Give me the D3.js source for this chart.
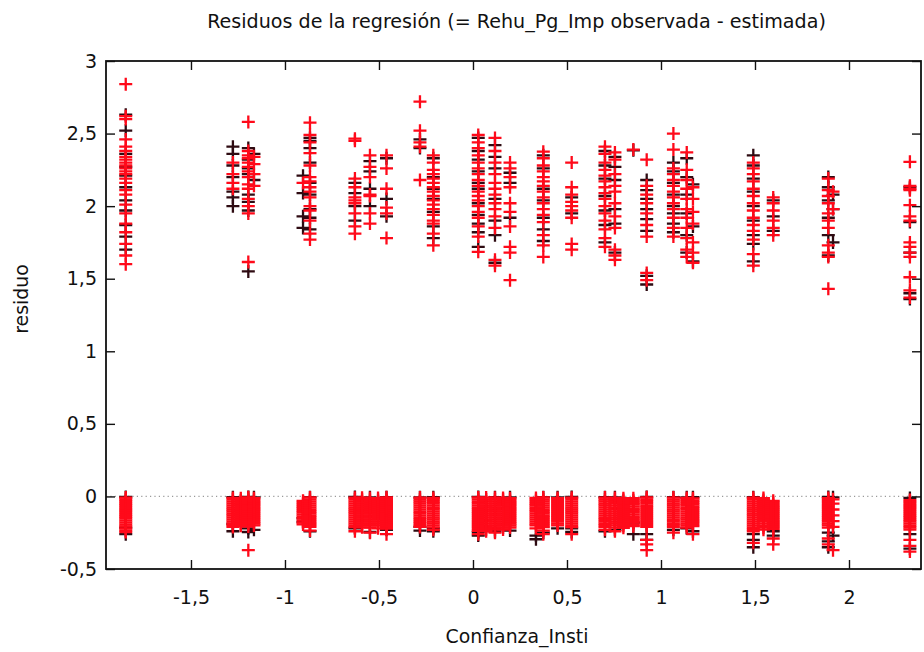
<!DOCTYPE html>
<html><head><meta charset="utf-8">
<script src="https://cdn.jsdelivr.net/npm/d3@7"></script>
<style>body{margin:0;background:#fff} svg text{font-family:"DejaVu Sans",sans-serif;fill:#111}</style>
</head><body><svg id="c" width="924" height="652"></svg>
<script>
// ---- data ----
const title = "Residuos de la regresión (= Rehu_Pg_Imp observada - estimada)";
const xLabel = "Confianza_Insti";
const yLabel = "residuo";
const xTicks = [-1.5, -1, -0.5, 0, 0.5, 1, 1.5, 2];
const yTicks = [-0.5, 0, 0.5, 1, 1.5, 2, 2.5, 3];

// distinct values of Confianza_Insti (one column of points each)
const columnX = [-1.847,-1.277,-1.195,-1.165,-0.904,-0.867,-0.628,-0.548,-0.46,-0.282,-0.211,0.028,0.117,0.197,0.335,0.374,0.45,0.525,0.702,0.755,0.853,0.924,1.066,1.137,1.17,1.491,1.597,1.89,1.915,2.324,
                 -1.235,-0.59,-0.505,0.07,0.16,0.80,1.545];

const upperRed = [
 [2.84,2.62,2.60,2.46,2.41,2.38,2.34,2.32,2.30,2.28,2.26,2.24,2.22,2.19,2.16,2.11,2.08,2.01,1.95,1.88,1.82,1.74,1.66,1.60],
 [2.30,2.22,2.16,2.12],
 [2.58,2.38,2.35,2.33,2.30,2.27,2.24,2.20,2.15,2.12,2.05,2.00,1.95,1.615],
 [2.34,2.29,2.22,2.14],
 [2.16],
 [2.575,2.49,2.44,2.365,2.28,2.20,2.17,2.13,2.10,2.06,2.00,1.97,1.90,1.81,1.77],
 [2.465,2.45,2.19,2.13,2.06,2.04,2.02,1.95,1.86,1.81],
 [2.35,2.27,2.20,2.08,2.07,1.95,1.88],
 [2.35,2.26,2.12,1.99,1.95,1.78],
 [2.72,2.52,2.44,2.41,2.18],
 [2.35,2.30,2.25,2.22,2.19,2.16,2.13,2.10,2.07,2.04,2.01,1.98,1.94,1.90,1.88,1.81,1.73],
 [2.49,2.44,2.40,2.35,2.30,2.26,2.22,2.18,2.14,2.10,2.07,2.04,2.00,1.96,1.92,1.86,1.79,1.685],
 [2.47,2.38,2.30,2.22,2.16,2.12,2.08,2.02,1.98,1.93,1.85,1.63,1.59],
 [2.30,2.26,2.20,2.13,2.02,1.96,1.86,1.72,1.68,1.49],
 [],
 [2.375,2.33,2.28,2.24,2.20,2.17,2.14,2.10,2.06,2.02,1.98,1.94,1.89,1.80,1.73,1.65],
 [],
 [2.30,2.13,2.08,2.03,2.00,1.97,1.92,1.74,1.70],
 [2.41,2.36,2.30,2.25,2.21,2.17,2.13,2.09,2.05,2.00,1.95,1.90,1.84,1.78,1.72],
 [2.37,2.32,2.22,2.14,2.10,2.02,1.93,1.85,1.70,1.66,1.63],
 [2.39],
 [2.32,2.14,2.08,2.02,1.95,1.87,1.79,1.54,1.49],
 [2.50,2.39,2.26,2.22,2.18,2.14,2.10,2.06,2.02,1.98,1.92,1.85,1.79],
 [2.37,2.25,2.18,2.12,2.05,1.98,1.92,1.85,1.78,1.70,1.65],
 [2.13,2.05,1.96,1.88,1.75,1.68,1.61],
 [2.30,2.26,2.22,2.17,2.12,2.07,2.02,1.97,1.92,1.87,1.83,1.77,1.67,1.59],
 [2.06,2.02,1.97,1.90,1.85,1.80],
 [2.19,2.11,2.07,2.02,1.95,1.90,1.85,1.73,1.68,1.65,1.43],
 [2.10,1.98],
 [2.305,2.14,2.12,2.11,2.007,1.93,1.90,1.75,1.72,1.68,1.65,1.51,1.42,1.37],
 [],[],[],[],[],[],[]
];
const upperDark = [
 [2.63,2.52,2.36,2.27,2.21,2.13,2.04,1.97,1.87,1.79,1.70],
 [2.41,2.36,2.28,2.20,2.10,2.06,2.00],
 [2.40,2.32,2.26,2.22,2.08,2.03,1.97,1.55],
 [2.36,2.18],
 [2.21,2.09,1.93,1.85],
 [2.47,2.45,2.40,2.30,2.16,2.08,1.98,1.92,1.84],
 [2.16,2.09,2.00,1.90],
 [2.31,2.24,2.12,2.00],
 [2.33,2.05,1.93],
 [2.46,2.40],
 [2.33,2.20,2.12,2.05,1.96,1.86,1.78],
 [2.47,2.38,2.32,2.24,2.16,2.12,2.02,1.94,1.88,1.82,1.72],
 [2.42,2.34,2.26,2.05,1.90,1.80,1.61],
 [2.23,2.16,1.92],
 [],
 [2.35,2.26,2.12,2.04,1.92,1.84,1.76],
 [],
 [2.06,1.95],
 [2.38,2.28,2.19,2.07,1.97,1.87,1.75],
 [2.34,2.27,2.18,1.98,1.88,1.68],
 [2.385],
 [2.18,2.11,2.05,1.98,1.91,1.83,1.52,1.46],
 [2.30,2.24,2.16,2.08,2.00,1.95,1.88,1.82],
 [2.33,2.20,2.08,1.95,1.80,1.68],
 [2.15,1.86,1.62],
 [2.35,2.28,2.19,2.10,2.00,1.90,1.80,1.74,1.62],
 [2.04,1.93,1.83],
 [2.20,2.13,2.04,1.92,1.80,1.66],
 [2.08,1.98,1.75],
 [2.13,1.89,1.68,1.40,1.36],
 [],[],[],[],[],[],[]
];
const lowerRed = [
 [-0.008,-0.02,-0.033,-0.047,-0.06,-0.074,-0.088,-0.1,-0.113,-0.127,-0.14,-0.153,-0.167,-0.18,-0.194,-0.207,-0.22,-0.234,-0.245],
 [-0.01,-0.022,-0.036,-0.05,-0.063,-0.077,-0.09,-0.104,-0.118,-0.131,-0.145,-0.158,-0.172,-0.185,-0.198,-0.21],
 [-0.006,-0.019,-0.032,-0.046,-0.059,-0.073,-0.086,-0.1,-0.114,-0.127,-0.141,-0.154,-0.168,-0.181,-0.195,-0.208,-0.37],
 [-0.012,-0.025,-0.039,-0.052,-0.066,-0.08,-0.093,-0.107,-0.12,-0.134,-0.148,-0.161,-0.175,-0.188,-0.2],
 [-0.03,-0.045,-0.058,-0.072,-0.085,-0.099,-0.112,-0.126,-0.14,-0.153,-0.167,-0.18,-0.193],
 [-0.007,-0.02,-0.034,-0.048,-0.061,-0.075,-0.089,-0.102,-0.116,-0.13,-0.143,-0.157,-0.17,-0.184,-0.197,-0.21,-0.235],
 [-0.009,-0.022,-0.036,-0.049,-0.063,-0.077,-0.09,-0.104,-0.117,-0.131,-0.145,-0.158,-0.172,-0.185,-0.199,-0.212,-0.24],
 [-0.011,-0.024,-0.038,-0.051,-0.065,-0.078,-0.092,-0.106,-0.119,-0.133,-0.146,-0.16,-0.174,-0.187,-0.2,-0.215,-0.25],
 [-0.006,-0.019,-0.033,-0.046,-0.06,-0.073,-0.087,-0.1,-0.114,-0.128,-0.141,-0.155,-0.168,-0.182,-0.196,-0.209,-0.222,-0.26],
 [-0.008,-0.021,-0.035,-0.048,-0.062,-0.076,-0.089,-0.103,-0.116,-0.13,-0.144,-0.157,-0.171,-0.184,-0.198,-0.21],
 [-0.01,-0.023,-0.037,-0.05,-0.064,-0.078,-0.091,-0.105,-0.118,-0.132,-0.146,-0.159,-0.173,-0.186,-0.2,-0.213,-0.23],
 [-0.007,-0.02,-0.034,-0.047,-0.061,-0.075,-0.088,-0.102,-0.115,-0.129,-0.143,-0.156,-0.17,-0.183,-0.197,-0.21,-0.224,-0.238,-0.26],
 [-0.009,-0.022,-0.036,-0.05,-0.063,-0.077,-0.09,-0.104,-0.118,-0.131,-0.145,-0.158,-0.172,-0.186,-0.199,-0.213,-0.226,-0.25],
 [-0.012,-0.025,-0.039,-0.052,-0.066,-0.08,-0.093,-0.107,-0.12,-0.134,-0.148,-0.161,-0.175,-0.188,-0.2,-0.214],
 [-0.01,-0.024,-0.037,-0.051,-0.064,-0.078,-0.092,-0.105,-0.119,-0.132,-0.146,-0.16,-0.173,-0.187,-0.2,-0.22],
 [-0.007,-0.021,-0.034,-0.048,-0.062,-0.075,-0.089,-0.102,-0.116,-0.13,-0.143,-0.157,-0.17,-0.184,-0.198,-0.211,-0.235,-0.26],
 [-0.011,-0.025,-0.038,-0.052,-0.066,-0.079,-0.093,-0.106,-0.12,-0.134,-0.147,-0.161,-0.174,-0.188,-0.2],
 [-0.009,-0.022,-0.036,-0.049,-0.063,-0.077,-0.09,-0.104,-0.117,-0.131,-0.145,-0.158,-0.172,-0.185,-0.199,-0.212,-0.26],
 [-0.008,-0.021,-0.035,-0.049,-0.062,-0.076,-0.089,-0.103,-0.117,-0.13,-0.144,-0.157,-0.171,-0.185,-0.198,-0.212,-0.23],
 [-0.01,-0.023,-0.037,-0.05,-0.064,-0.078,-0.091,-0.105,-0.118,-0.132,-0.146,-0.159,-0.173,-0.186,-0.2,-0.215,-0.24],
 [-0.012,-0.026,-0.04,-0.054,-0.068,-0.082,-0.095,-0.109,-0.123,-0.137,-0.15,-0.164,-0.178,-0.192,-0.205],
 [-0.006,-0.02,-0.033,-0.047,-0.061,-0.074,-0.088,-0.101,-0.115,-0.129,-0.142,-0.156,-0.17,-0.183,-0.197,-0.21,-0.3,-0.33,-0.37],
 [-0.008,-0.022,-0.035,-0.049,-0.062,-0.076,-0.09,-0.103,-0.117,-0.13,-0.144,-0.158,-0.171,-0.185,-0.198,-0.212,-0.25],
 [-0.01,-0.023,-0.037,-0.051,-0.064,-0.078,-0.091,-0.105,-0.119,-0.132,-0.146,-0.159,-0.173,-0.187,-0.2,-0.214],
 [-0.013,-0.027,-0.04,-0.054,-0.068,-0.081,-0.095,-0.108,-0.122,-0.136,-0.149,-0.163,-0.176,-0.19,-0.204,-0.26],
 [-0.009,-0.022,-0.036,-0.05,-0.063,-0.077,-0.09,-0.104,-0.118,-0.131,-0.145,-0.158,-0.172,-0.186,-0.199,-0.213,-0.226,-0.24,-0.32],
 [-0.03,-0.045,-0.06,-0.074,-0.088,-0.101,-0.115,-0.129,-0.142,-0.156,-0.17,-0.183,-0.197,-0.21,-0.224,-0.29,-0.33],
 [-0.011,-0.025,-0.038,-0.052,-0.066,-0.079,-0.093,-0.106,-0.12,-0.134,-0.147,-0.161,-0.174,-0.188,-0.2,-0.215,-0.29,-0.33],
 [-0.02,-0.05,-0.09,-0.13,-0.17,-0.21,-0.37],
 [-0.025,-0.038,-0.052,-0.066,-0.079,-0.093,-0.106,-0.12,-0.134,-0.147,-0.161,-0.174,-0.188,-0.202,-0.215,-0.229,-0.3,-0.34,-0.38],
 [-0.012,-0.026,-0.039,-0.053,-0.066,-0.08,-0.094,-0.107,-0.121,-0.134,-0.148,-0.162,-0.175,-0.189,-0.202],
 [-0.009,-0.023,-0.036,-0.05,-0.064,-0.077,-0.091,-0.104,-0.118,-0.132,-0.145,-0.159,-0.172,-0.186,-0.2,-0.213],
 [-0.011,-0.024,-0.038,-0.052,-0.065,-0.079,-0.092,-0.106,-0.12,-0.133,-0.147,-0.16,-0.174,-0.188,-0.201,-0.22],
 [-0.008,-0.022,-0.035,-0.049,-0.063,-0.076,-0.09,-0.103,-0.117,-0.131,-0.144,-0.158,-0.171,-0.185,-0.199,-0.212,-0.226,-0.24],
 [-0.01,-0.023,-0.037,-0.051,-0.064,-0.078,-0.091,-0.105,-0.119,-0.132,-0.146,-0.159,-0.173,-0.187,-0.2,-0.214,-0.228],
 [-0.012,-0.025,-0.039,-0.053,-0.066,-0.08,-0.093,-0.107,-0.121,-0.134,-0.148,-0.161,-0.175,-0.189,-0.202,-0.216],
 [-0.011,-0.025,-0.038,-0.052,-0.066,-0.079,-0.093,-0.106,-0.12,-0.134,-0.147,-0.161,-0.174,-0.188,-0.202,-0.215,-0.229]
];
const lowerDark = [
 [-0.004,-0.215,-0.26],[-0.005,-0.19,-0.24],[-0.004,-0.22,-0.245],[-0.006,-0.23],[-0.15,-0.175],
 [-0.005,-0.24],[-0.004,-0.22],[-0.006,-0.245],[-0.005,-0.23],[-0.006,-0.21,-0.235],
 [-0.005,-0.22,-0.24],[-0.004,-0.245,-0.27],[-0.005,-0.24],[-0.006,-0.235],[-0.27,-0.295],
 [-0.005,-0.25],[-0.006,-0.22],[-0.004,-0.22,-0.245],[-0.005,-0.24],[-0.006,-0.23],
 [-0.18,-0.26],[-0.004,-0.26,-0.3],[-0.005,-0.23],[-0.006,-0.22],[-0.005,-0.24],
 [-0.005,-0.26,-0.3,-0.35],[-0.24,-0.27],[-0.004,-0.25,-0.31,-0.35],[-0.006,-0.27],[-0.01,-0.26,-0.36],
 [],[],[],[],[],[],[]
];

// ---- drawing ----
const svg = d3.select("#c");
const x = d3.scaleLinear().domain([-1.952, 2.383]).range([106, 921]);
const y = d3.scaleLinear().domain([-0.5, 3]).range([569, 61]);
const fmt = d => String(d).replace(".", ",");
const FS = 19;

function flat(groups) {
  const out = [];
  groups.forEach((g, i) => g.forEach(r => out.push({x: columnX[i], r})));
  return out;
}
const darkPts = flat(upperDark).concat(flat(lowerDark));
const redPts = flat(upperRed).concat(flat(lowerRed));

// zero line
svg.append("line").attr("x1", x.range()[0]).attr("x2", x.range()[1])
  .attr("y1", y(0)).attr("y2", y(0))
  .attr("stroke", "#9a9a9a").attr("stroke-width", 1.2).attr("stroke-dasharray", "1.2,3.2");

const plus = "M-6.5,0H6.5M0,-6.5V6.5";
const gp = svg.append("g");
gp.selectAll("path.d").data(darkPts).join("path").attr("class", "d")
  .attr("d", plus).attr("transform", d => `translate(${x(d.x)},${y(d.r)})`)
  .attr("stroke", "#2e0b12").attr("stroke-width", 2.3).attr("fill", "none");
gp.selectAll("path.r").data(redPts).join("path").attr("class", "r")
  .attr("d", plus).attr("transform", d => `translate(${x(d.x)},${y(d.r)})`)
  .attr("stroke", "#ff0a1a").attr("stroke-width", 2.3).attr("fill", "none");

// axes
const ax = svg.append("g").attr("transform", `translate(0,${y.range()[0]})`)
  .call(d3.axisBottom(x).tickValues(xTicks).tickSize(-9).tickPadding(22).tickFormat(fmt));
const axT = svg.append("g").attr("transform", `translate(0,${y.range()[1]})`)
  .call(d3.axisTop(x).tickValues(xTicks).tickSize(-9).tickFormat(""));
const ay = svg.append("g").attr("transform", `translate(${x.range()[0]},0)`)
  .call(d3.axisLeft(y).tickValues(yTicks).tickSize(-9).tickPadding(9).tickFormat(fmt));
const ayR = svg.append("g").attr("transform", `translate(${x.range()[1]},0)`)
  .call(d3.axisRight(y).tickValues(yTicks).tickSize(-9).tickFormat(""));
[ax, axT, ay, ayR].forEach(g => {
  g.select(".domain").remove();
  g.selectAll(".tick line").attr("stroke", "#111").attr("stroke-width", 1.4);
  g.selectAll(".tick text").attr("font-size", FS).attr("font-family", "DejaVu Sans").attr("fill", "#111");
});

// frame
svg.append("rect").attr("x", x.range()[0]).attr("y", y.range()[1])
  .attr("width", x.range()[1] - x.range()[0]).attr("height", y.range()[0] - y.range()[1])
  .attr("fill", "none").attr("stroke", "#111").attr("stroke-width", 1.8);

// texts
function fitText(sel, target) {
  const w = sel.node().getComputedTextLength();
  const fs = parseFloat(sel.attr("font-size"));
  sel.attr("font-size", fs * target / w);
}
const t = svg.append("text").attr("x", 516.5).attr("y", 28).attr("text-anchor", "middle")
  .attr("font-size", 17).text(title);
fitText(t, 619);
const xl = svg.append("text").attr("x", 517).attr("y", 643).attr("text-anchor", "middle")
  .attr("font-size", 19).text(xLabel);
fitText(xl, 143);
svg.append("text").attr("transform", "translate(28,299) rotate(-90)").attr("text-anchor", "middle")
  .attr("font-size", xl.attr("font-size")).text(yLabel);
</script></body></html>
